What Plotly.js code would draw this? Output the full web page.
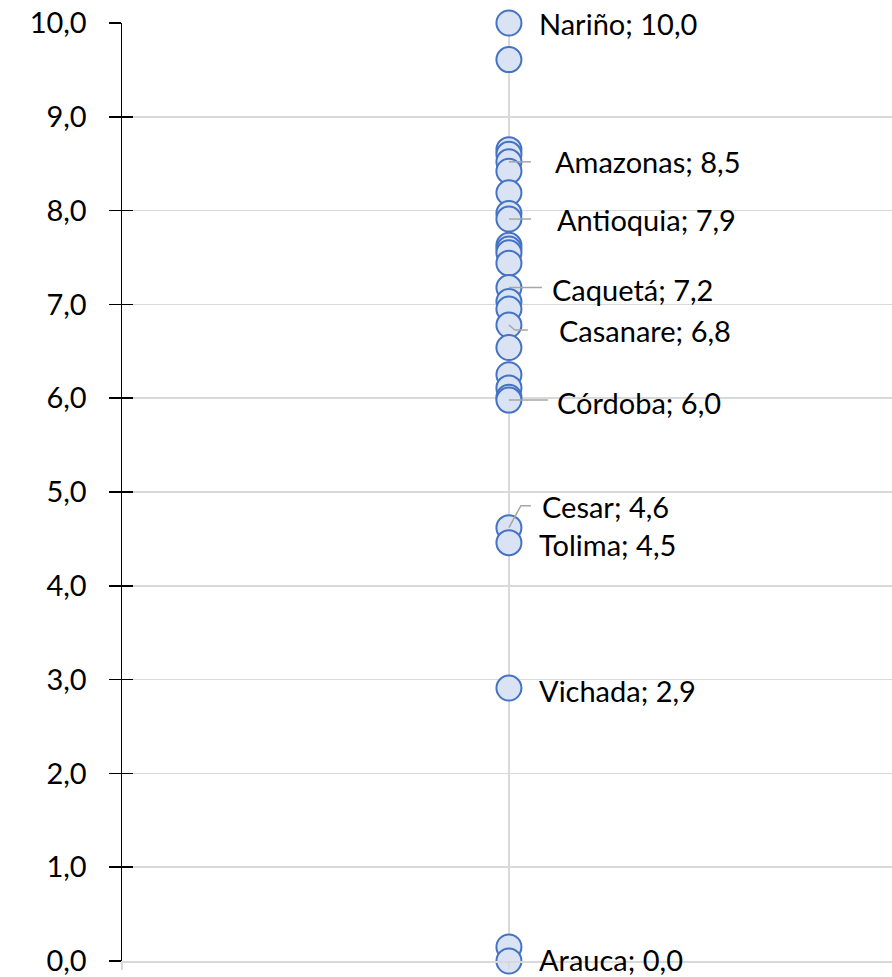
<!DOCTYPE html>
<html>
<head>
<meta charset="utf-8">
<script src="https://cdn.plot.ly/plotly-3.0.1.min.js"></script>
<style>html,body{margin:0;padding:0;background:#fff;}#chart{width:892px;height:977px;}</style>
</head>
<body>
<div id="chart"></div>
<script>
// Data: department values (all plotted on one category, x = 1)
const values = [10.0, 9.61, 8.65, 8.60, 8.52, 8.42, 8.19, 7.97, 7.91, 7.63, 7.59, 7.55, 7.44, 7.18, 7.03, 6.95, 6.78, 6.54, 6.25, 6.11, 6.01, 5.98, 4.62, 4.46, 2.91, 0.15, 0.0];
const labels = ["Nariño", "", "", "", "Amazonas", "", "", "", "Antioquia", "", "", "", "", "Caquetá", "", "", "Casanare", "", "", "", "", "Córdoba", "Cesar", "Tolima", "Vichada", "", "Arauca"];
const yTicks = [0, 1, 2, 3, 4, 5, 6, 7, 8, 9, 10];

// Label placement (styles, pixel offsets from the point)
const labelStyle = {
  "Nariño":   {dx: 29, dy: 0,   leader: null},
  "Amazonas": {dx: 45, dy: 0,   leader: "M0,0L22,0"},
  "Antioquia":{dx: 47, dy: 0,   leader: "M0,0L22,0"},
  "Caquetá":  {dx: 42, dy: 2,   leader: "M0,0L33,0"},
  "Casanare": {dx: 49, dy: 5,   leader: "M0,0L6,-5L19,-5"},
  "Córdoba":  {dx: 47, dy: 2,   leader: "M0,0L39,0"},
  "Cesar":    {dx: 32, dy: -21, leader: "M0,0L12,22L22,22"},
  "Tolima":   {dx: 29, dy: 2,   leader: null},
  "Vichada":  {dx: 29, dy: 2,   leader: null},
  "Arauca":   {dx: 29, dy: -2,  leader: null}
};

const FONT = "Lato, 'Open Sans', sans-serif";
const fmt = v => v.toFixed(1).replace('.', ',');

const xs = values.map(() => 1);

const trace = {
  type: 'scatter', mode: 'markers', x: xs, y: values,
  cliponaxis: false, hoverinfo: 'skip',
  marker: {size: 25, color: '#dae3f3', line: {color: '#4472c4', width: 2}}
};
const dummy = {type: 'scatter', mode: 'markers', x: [1], y: [5], yaxis: 'y2', marker: {opacity: 0}, hoverinfo: 'skip'};

const annotations = [];
const shapes = [];
labels.forEach((lab, i) => {
  if (!lab) return;
  const st = labelStyle[lab];
  annotations.push({
    x: 1, y: values[i], xref: 'x', yref: 'y',
    text: lab + '; ' + fmt(values[i]),
    showarrow: false, xanchor: 'left', yanchor: 'middle', borderpad: 0,
    xshift: st.dx, yshift: -st.dy,
    font: {family: FONT, size: 29, color: '#000'}
  });
  if (st.leader) {
    shapes.push({
      type: 'path', xref: 'x', yref: 'y',
      xsizemode: 'pixel', ysizemode: 'pixel', xanchor: 1, yanchor: values[i],
      path: st.leader, line: {color: '#a6a6a6', width: 1.5}, layer: 'above'
    });
  }
});

const layout = {
  width: 892, height: 977,
  margin: {l: 122, r: 0, t: 23, b: 16},
  paper_bgcolor: '#fff', plot_bgcolor: '#fff',
  showlegend: false,
  separators: ', ',
  xaxis: {
    range: [0, 1.99], tickvals: [0, 1], showticklabels: false,
    showgrid: true, gridcolor: '#d9d9d9', gridwidth: 1.5,
    zeroline: false, showline: true, linecolor: '#d9d9d9', linewidth: 1.5,
    ticks: 'outside', ticklen: 7, tickcolor: '#d9d9d9', tickwidth: 1.5,
    fixedrange: true
  },
  yaxis: {
    range: [0, 10], tickvals: yTicks, tickformat: '.1f',
    showgrid: true, gridcolor: '#d9d9d9', gridwidth: 1.5,
    zeroline: false, showline: true, linecolor: '#000', linewidth: 1.5,
    ticks: 'outside', ticklen: 12, tickcolor: '#000', tickwidth: 1.5,
    ticklabelstandoff: 16, ticklabeloverflow: 'allow',
    tickfont: {family: FONT, size: 29, color: '#000'},
    fixedrange: true
  },
  yaxis2: {
    overlaying: 'y', side: 'left', range: [0, 10], tickvals: yTicks,
    showticklabels: false, showgrid: false, zeroline: false, showline: false,
    ticks: 'inside', ticklen: 11, tickcolor: '#000', tickwidth: 1.5, fixedrange: true
  },
  annotations: annotations,
  shapes: shapes
};

Plotly.newPlot('chart', [dummy, trace], layout, {staticPlot: true, displayModeBar: false});
</script>
</body>
</html>
